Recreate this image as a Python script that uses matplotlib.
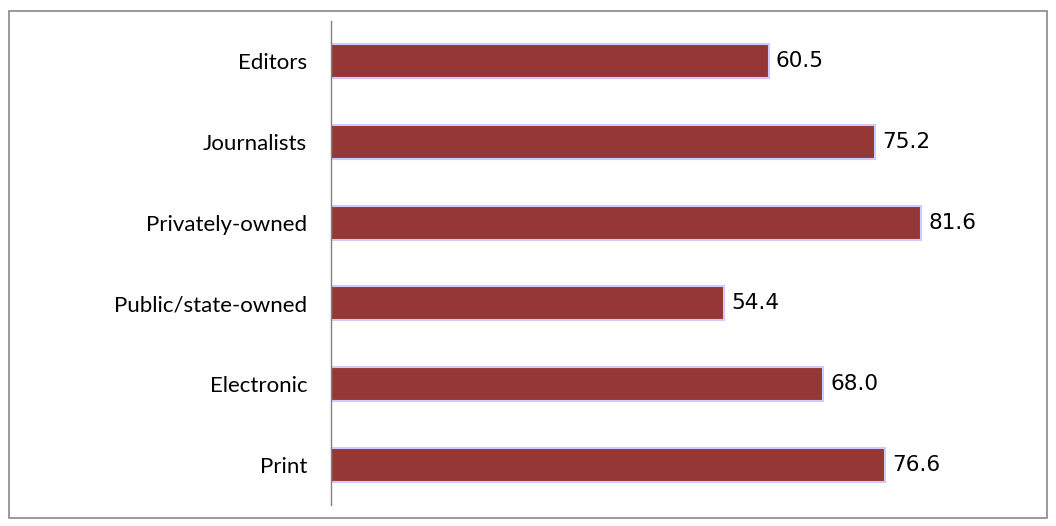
import matplotlib.pyplot as plt
from matplotlib.patches import Rectangle

# share of respondents by group (%)
categories = ['Editors', 'Journalists', 'Privately-owned', 'Public/state-owned', 'Electronic', 'Print']
values = [60.5, 75.2, 81.6, 54.4, 68.0, 76.6]

fig = plt.figure(figsize=(10.56, 5.26), dpi=100)
ax = fig.add_axes([0.3134, 0.04, 0.6165, 0.92])

# top category first
pos = list(range(len(categories)))[::-1]
ax.barh(pos, values, height=0.42, color='#953735', edgecolor='#ccccff', linewidth=1.5)

for p, v in zip(pos, values):
    ax.text(v + 1.0, p, f"{v:.1f}", va='center', ha='left', fontsize=15.5, family='DejaVu Sans')

ax.set_yticks(pos)
ax.set_yticklabels(categories, fontsize=16, family='Lato')
ax.tick_params(axis='y', length=0, pad=17)
ax.set_xticks([])
ax.set_xlim(0, 90)
ax.set_ylim(-0.5, 5.5)
for s in ['top', 'right', 'bottom']:
    ax.spines[s].set_visible(False)
ax.spines['left'].set_color('#808080')
ax.spines['left'].set_linewidth(1)

# outer frame around the whole chart
fig.patches.append(Rectangle((9 / 1056, 8 / 526), 1038 / 1056, 507 / 526, transform=fig.transFigure,
                             fill=False, edgecolor='#888888', linewidth=1.2))

plt.savefig('out.png', dpi=100)
